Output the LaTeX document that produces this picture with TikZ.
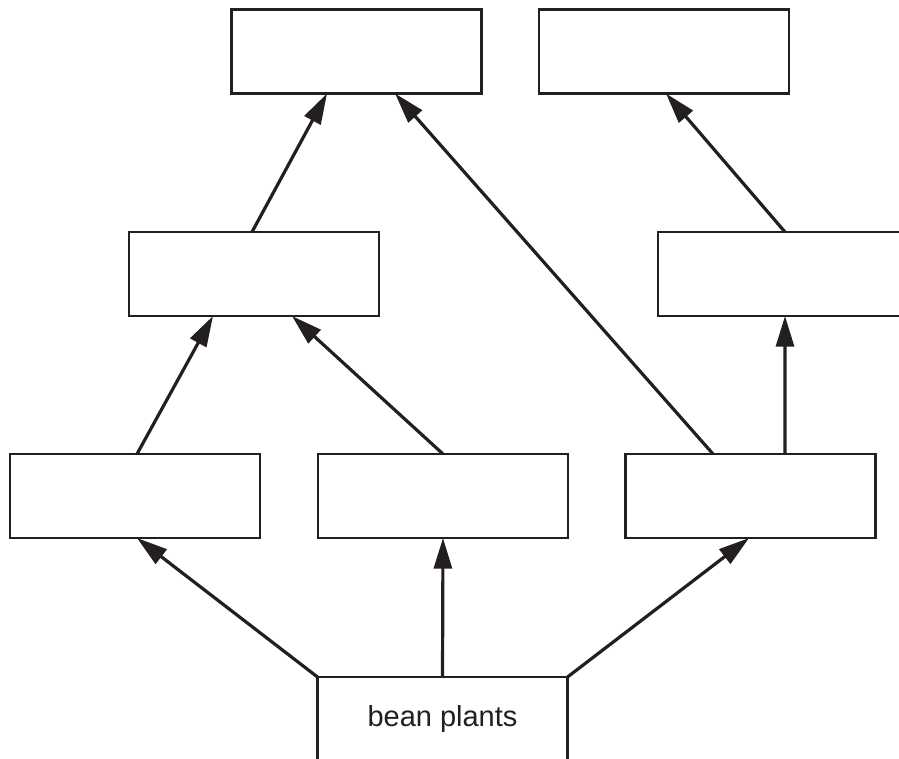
\documentclass[tikz,border=0pt]{standalone}
\usepackage{fontspec}
\setmainfont{Liberation Sans}
\usetikzlibrary{arrows.meta}
\definecolor{ink}{RGB}{35,31,32}
\begin{document}
\begin{tikzpicture}[x=0.75pt,y=-0.75pt,
  box/.style={draw=ink, line width=1.6pt, rectangle, inner sep=0pt, outer sep=0pt,
    minimum width=187.5pt, minimum height=63pt, fill=white},
  link/.style={draw=ink, line width=2.4pt, -{Triangle[length=23pt,width=13.5pt]}}]
\useasboundingbox (0,0) rectangle (899,758);
\clip (0,0) rectangle (899,758);
\fill[white] (0,0) rectangle (899,758);
\node[box] (tl) at (356.5,51.5) {};
\node[box] (tr) at (664,51.5) {};
\node[box] (ml) at (254,274) {};
\node[box] (mr) at (783,274) {};
\node[box] (bl) at (135,496) {};
\node[box] (bm) at (443,496) {};
\node[box] (br) at (750.5,496) {};
\node[box, minimum height=63pt, font=\fontsize{21.75}{26}\selectfont, text=ink] (bean) at (442.5,719) {bean plants};
\draw[link] (bean.north west) -- ([xshift=1.5pt]bl.south);
\draw[link] (bean.north) -- (bm.south);
\draw[link] (bean.north east) -- ([xshift=-1.1pt]br.south);
\draw[link] ([xshift=1.5pt]bl.north) -- ([xshift=-30.75pt]ml.south);
\draw[link] (bm.north) -- ([xshift=28.5pt]ml.south);
\draw[link] ([xshift=-28.1pt]br.north) -- ([xshift=28.9pt]tl.south);
\draw[link] ([xshift=25.9pt]br.north) -- ([xshift=1.5pt]mr.south);
\draw[link] ([xshift=-1.5pt]ml.north) -- ([xshift=-22.1pt]tl.south);
\draw[link] ([xshift=1.5pt]mr.north) -- ([xshift=1.5pt]tr.south);
\end{tikzpicture}
\end{document}
